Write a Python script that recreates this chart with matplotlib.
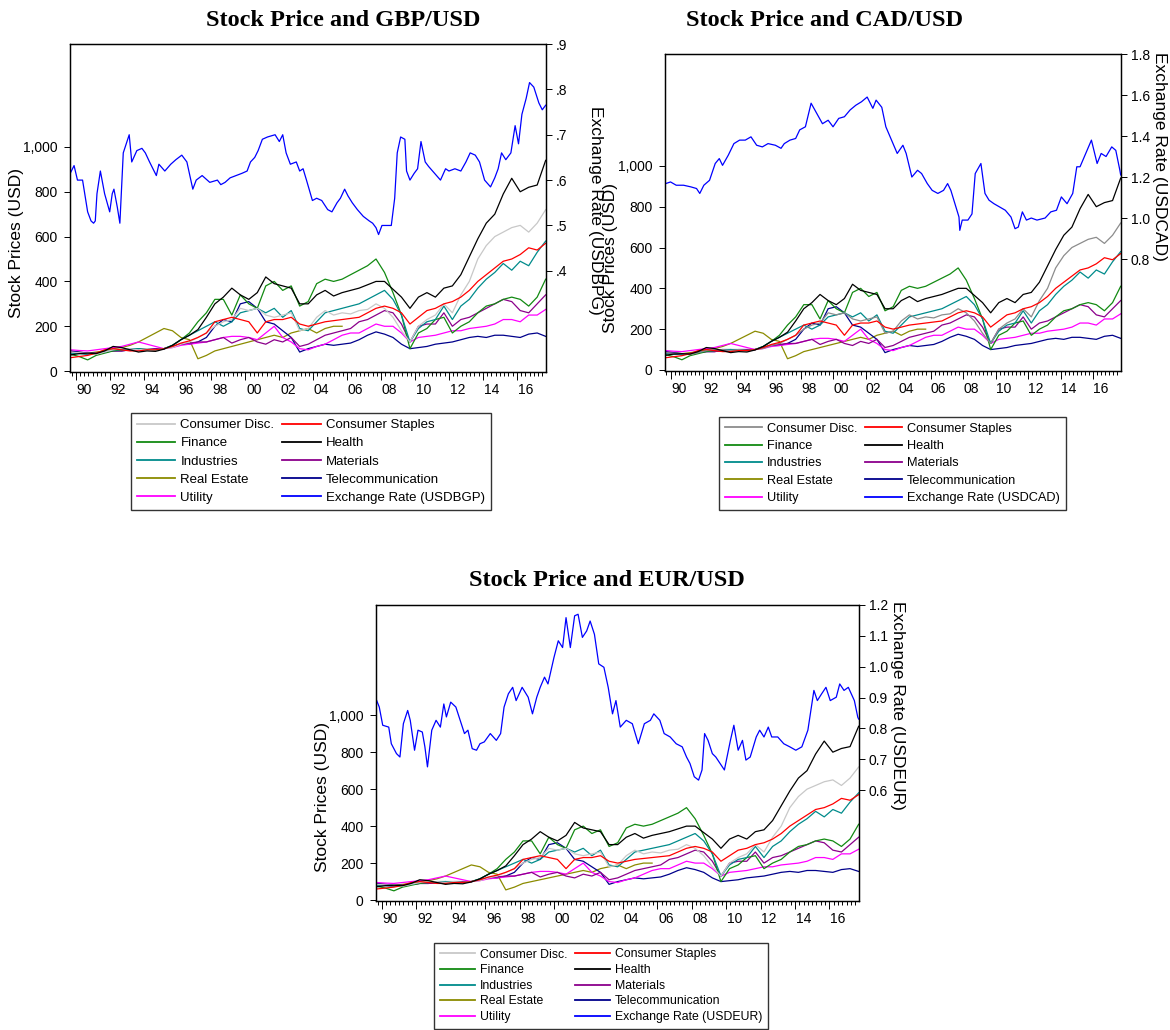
import numpy as np
import matplotlib
matplotlib.use("Agg")
import matplotlib.pyplot as plt
from matplotlib.ticker import FixedLocator, FuncFormatter
from matplotlib.lines import Line2D

plt.rcParams["font.family"] = ["Liberation Sans", "DejaVu Sans"]

# Sector indices, sampled every half year (USD)
STOCK_T = np.arange(1989.7, 2017.71, 0.5)

CONSUMER_DISC = [85, 82, 80, 75, 85, 95, 100, 100, 95, 100,
                 95, 100, 105, 120, 130, 150, 170, 200, 220, 230,
                 280, 270, 280, 250, 240, 250, 260, 180, 190, 240,
                 270, 250, 260, 255, 270, 275, 300, 280, 240, 180,
                 130, 200, 230, 250, 300, 260, 340, 400, 500, 560,
                 600, 620, 640, 650, 620, 660, 720]
CONSUMER_STAPLES = [60, 65, 70, 80, 95, 100, 95, 90, 90, 95,
                    95, 100, 110, 125, 135, 150, 170, 220, 230, 240,
                    230, 220, 170, 220, 230, 230, 240, 210, 200, 210,
                    220, 225, 230, 235, 240, 260, 280, 290, 280, 260,
                    210, 240, 270, 280, 300, 310, 330, 360, 400, 430,
                    460, 490, 500, 520, 550, 540, 570]
FINANCE = [75, 65, 50, 70, 80, 90, 95, 100, 100, 98,
           95, 100, 115, 140, 170, 220, 260, 320, 320, 250,
           340, 300, 280, 380, 400, 360, 380, 290, 310, 390,
           410, 400, 410, 430, 450, 470, 500, 440, 350, 250,
           100, 170, 190, 230, 240, 170, 200, 220, 260, 290,
           300, 320, 330, 320, 290, 330, 410]
HEALTH = [72, 78, 80, 78, 90, 110, 105, 95, 85, 90,
          88, 98, 115, 140, 160, 185, 240, 300, 330, 370,
          340, 320, 350, 420, 390, 380, 370, 300, 300, 340,
          360, 335, 350, 360, 370, 385, 400, 400, 365, 330,
          280, 330, 350, 330, 370, 380, 430, 510, 590, 660,
          700, 790, 860, 800, 820, 830, 940]
INDUSTRIES = [80, 78, 75, 80, 85, 95, 95, 100, 100, 98,
              95, 100, 115, 140, 160, 180, 200, 220, 200, 220,
              260, 270, 280, 260, 280, 240, 270, 190, 180, 220,
              260, 270, 280, 290, 300, 320, 340, 360, 320, 250,
              130, 190, 220, 230, 290, 230, 290, 320, 370, 410,
              440, 480, 450, 490, 470, 530, 580]
MATERIALS = [85, 80, 75, 80, 85, 90, 90, 95, 95, 100,
             100, 100, 110, 120, 125, 130, 130, 140, 150, 125,
             140, 150, 130, 120, 140, 130, 150, 110, 120, 140,
             160, 170, 180, 190, 220, 230, 250, 270, 260, 210,
             130, 200, 210, 210, 260, 200, 230, 240, 260, 280,
             300, 320, 310, 270, 260, 300, 340]
REAL_ESTATE = [90, 85, 80, 85, 90, 100, 105, 115, 130, 150,
               170, 190, 180, 150, 140, 55, 70, 90, 100, 110,
               120, 130, 140, 150, 160, 150, 170, 180, 190, 170,
               190, 200, 200] + [np.nan] * 24
TELECOM = [90, 85, 80, 80, 85, 90, 90, 95, 100, 100,
           100, 100, 110, 120, 120, 130, 150, 200, 230, 220,
           300, 310, 280, 220, 210, 180, 150, 85, 100, 110,
           120, 115, 120, 125, 140, 160, 175, 165, 150, 120,
           100, 105, 110, 120, 125, 130, 140, 150, 155, 150,
           160, 160, 155, 150, 165, 170, 155]
UTILITY = [95, 92, 90, 95, 100, 105, 110, 120, 130, 120,
           110, 100, 105, 115, 120, 125, 130, 140, 150, 155,
           155, 150, 140, 170, 200, 150, 130, 100, 95, 110,
           120, 140, 160, 170, 170, 190, 210, 200, 200, 170,
           130, 150, 155, 160, 170, 180, 180, 190, 195, 200,
           210, 230, 230, 220, 250, 250, 275]

# Exchange rates (units of foreign currency per USD)
GBP_T = [1989.7, 1989.9, 1990.1, 1990.4, 1990.7, 1990.9, 1991.05, 1991.15, 1991.25, 1991.45,
         1991.7, 1992.0, 1992.15, 1992.25, 1992.45, 1992.6, 1992.8, 1993.15, 1993.3, 1993.6,
         1993.9, 1994.1, 1994.35, 1994.75, 1994.9, 1995.25, 1995.6, 1995.9, 1996.25, 1996.55,
         1996.9, 1997.1, 1997.45, 1997.9, 1998.35, 1998.55, 1998.8, 1999.1, 1999.45, 1999.8,
         2000.1, 2000.3, 2000.55, 2000.75, 2001.0, 2001.3, 2001.75, 2002.0, 2002.2, 2002.4,
         2002.65, 2003.0, 2003.2, 2003.4, 2003.6, 2003.95, 2004.2, 2004.5, 2004.85, 2005.1,
         2005.4, 2005.6, 2005.85, 2006.05, 2006.3, 2006.6, 2006.95, 2007.3, 2007.5, 2007.7,
         2007.85, 2008.05, 2008.5, 2008.6, 2008.8, 2008.95, 2009.15, 2009.4, 2009.5, 2009.7,
         2009.95, 2010.15, 2010.35, 2010.6, 2010.8, 2011.15, 2011.5, 2011.8, 2012.0, 2012.35,
         2012.7, 2013.0, 2013.25, 2013.55, 2013.8, 2014.1, 2014.45, 2014.7, 2014.9, 2015.1,
         2015.35, 2015.65, 2015.9, 2016.1, 2016.3, 2016.55, 2016.75, 2017.0, 2017.3, 2017.5,
         2017.7]
GBP_V = [.617, .632, .600, .600, .530, .510, .505, .510, .570, .620,
         .570, .530, .570, .580, .540, .505, .660, .700, .640, .665,
         .670, .660, .640, .610, .635, .620, .635, .645, .655, .640,
         .580, .600, .610, .595, .600, .590, .595, .605, .610, .615,
         .620, .640, .650, .665, .690, .695, .700, .685, .700, .660,
         .635, .640, .620, .625, .600, .555, .560, .555, .535, .530,
         .550, .560, .580, .565, .550, .535, .520, .510, .505, .495,
         .480, .500, .500, .500, .560, .660, .695, .690, .620, .600,
         .615, .625, .685, .640, .630, .615, .600, .625, .620, .625,
         .620, .640, .660, .655, .640, .600, .585, .605, .625, .660,
         .645, .660, .720, .680, .745, .780, .815, .805, .770, .755,
         .765]

CAD_T = [1989.7, 1990.0, 1990.35, 1990.8, 1991.25, 1991.6, 1991.8, 1992.05, 1992.4, 1992.75,
         1993.0, 1993.2, 1993.55, 1993.9, 1994.25, 1994.6, 1994.95, 1995.3, 1995.65, 1996.0,
         1996.45, 1996.8, 1997.0, 1997.35, 1997.7, 1997.95, 1998.3, 1998.65, 1999.0, 1999.35,
         1999.7, 2000.0, 2000.35, 2000.7, 2001.05, 2001.4, 2001.75, 2002.1, 2002.45, 2002.65,
         2003.0, 2003.25, 2003.6, 2003.95, 2004.3, 2004.5, 2004.85, 2005.2, 2005.45, 2005.8,
         2006.1, 2006.45, 2006.8, 2007.05, 2007.25, 2007.5, 2007.75, 2007.8, 2007.95, 2008.3,
         2008.55, 2008.75, 2009.1, 2009.35, 2009.6, 2009.9, 2010.25, 2010.6, 2010.95, 2011.2,
         2011.4, 2011.65, 2011.9, 2012.2, 2012.55, 2013.05, 2013.4, 2013.75, 2014.05, 2014.4,
         2014.75, 2015.0, 2015.2, 2015.55, 2015.9, 2016.25, 2016.5, 2016.8, 2017.15, 2017.4,
         2017.65, 2017.7]
CAD_V = [1.168, 1.176, 1.160, 1.160, 1.152, 1.144, 1.120, 1.160, 1.184, 1.266,
         1.290, 1.257, 1.306, 1.363, 1.380, 1.380, 1.396, 1.355, 1.347, 1.363,
         1.355, 1.340, 1.363, 1.380, 1.388, 1.430, 1.445, 1.560, 1.510, 1.460,
         1.477, 1.445, 1.486, 1.494, 1.527, 1.550, 1.567, 1.590, 1.535, 1.575,
         1.540, 1.445, 1.380, 1.315, 1.355, 1.315, 1.200, 1.233, 1.217, 1.168,
         1.135, 1.120, 1.135, 1.168, 1.135, 1.070, 1.005, 0.940, 0.990, 0.990,
         1.020, 1.217, 1.266, 1.120, 1.087, 1.070, 1.054, 1.038, 1.005, 0.948,
         0.956, 1.030, 0.990, 1.000, 0.990, 1.000, 1.030, 1.038, 1.103, 1.070,
         1.120, 1.250, 1.250, 1.315, 1.380, 1.266, 1.315, 1.300, 1.347, 1.330,
         1.233, 1.210]

EUR_T = [1989.7, 1989.85, 1990.05, 1990.4, 1990.55, 1990.85, 1991.05, 1991.25, 1991.5, 1991.65,
         1991.9, 1992.1, 1992.35, 1992.5, 1992.65, 1992.9, 1993.15, 1993.4, 1993.6, 1993.75,
         1994.0, 1994.3, 1994.55, 1994.8, 1995.0, 1995.25, 1995.5, 1995.7, 1995.95, 1996.3,
         1996.65, 1996.9, 1997.1, 1997.35, 1997.6, 1997.8, 1998.15, 1998.5, 1998.75, 1999.0,
         1999.2, 1999.45, 1999.65, 2000.0, 2000.25, 2000.5, 2000.7, 2000.95, 2001.2, 2001.4,
         2001.65, 2001.9, 2002.1, 2002.35, 2002.6, 2002.9, 2003.15, 2003.4, 2003.6, 2003.85,
         2004.2, 2004.55, 2004.9, 2005.25, 2005.6, 2005.8, 2006.15, 2006.4, 2006.75, 2007.1,
         2007.45, 2007.7, 2007.9, 2008.15, 2008.4, 2008.6, 2008.75, 2008.95, 2009.2, 2009.4,
         2009.65, 2009.9, 2010.25, 2010.45, 2010.7, 2010.95, 2011.15, 2011.4, 2011.75, 2011.95,
         2012.2, 2012.45, 2012.65, 2013.0, 2013.35, 2013.7, 2014.05, 2014.4, 2014.75, 2015.1,
         2015.3, 2015.55, 2015.8, 2016.05, 2016.4, 2016.6, 2016.85, 2017.1, 2017.45, 2017.65,
         2017.7]
EUR_V = [0.890, 0.869, 0.810, 0.804, 0.750, 0.718, 0.707, 0.815, 0.858, 0.826,
         0.729, 0.794, 0.788, 0.740, 0.675, 0.794, 0.826, 0.804, 0.879, 0.837,
         0.885, 0.869, 0.826, 0.783, 0.794, 0.734, 0.729, 0.750, 0.756, 0.783,
         0.761, 0.783, 0.869, 0.912, 0.933, 0.890, 0.933, 0.901, 0.847, 0.901,
         0.933, 0.966, 0.944, 1.030, 1.084, 1.062, 1.159, 1.062, 1.165, 1.170,
         1.095, 1.116, 1.148, 1.105, 1.009, 0.998, 0.933, 0.847, 0.890, 0.804,
         0.826, 0.815, 0.750, 0.815, 0.826, 0.847, 0.826, 0.783, 0.772, 0.750,
         0.740, 0.707, 0.686, 0.643, 0.632, 0.665, 0.783, 0.761, 0.718, 0.707,
         0.686, 0.665, 0.761, 0.810, 0.729, 0.761, 0.697, 0.707, 0.772, 0.794,
         0.772, 0.804, 0.772, 0.772, 0.750, 0.740, 0.729, 0.740, 0.794, 0.923,
         0.890, 0.912, 0.933, 0.890, 0.901, 0.944, 0.923, 0.933, 0.890, 0.836,
         0.830]

# legend order follows the reference (two columns, read row by row)
SECTORS = [
    ("Consumer Disc.", CONSUMER_DISC, "#c8c8c8"),
    ("Finance", FINANCE, "#128a12"),
    ("Industries", INDUSTRIES, "#008b8b"),
    ("Real Estate", REAL_ESTATE, "#8b8b00"),
    ("Utility", UTILITY, "#ff00ff"),
    ("Consumer Staples", CONSUMER_STAPLES, "#ff0000"),
    ("Health", HEALTH, "#000000"),
    ("Materials", MATERIALS, "#8b008b"),
    ("Telecommunication", TELECOM, "#00008b"),
]
DRAW_ORDER = ["Real Estate", "Telecommunication", "Utility", "Materials", "Finance",
              "Industries", "Consumer Disc.", "Consumer Staples", "Health"]

W, H = 1170, 1030
fig = plt.figure(figsize=(W / 100, H / 100), dpi=100)


def px_rect(x0, y0, x1, y1):
    return [x0 / W, 1 - y1 / H, (x1 - x0) / W, (y1 - y0) / H]


def draw_panel(box, title, title_xy, fx_t, fx_v, fx_legend, fx_axis, fx_lim, fx_ticks, fx_fmt,
               left_lim, disc_color, leg_xy, leg_size, leg_space, ylab_xy, rlab_xy):
    ax = fig.add_axes(px_rect(*box))
    ax2 = ax.twinx()
    colors = {}
    for name, vals, col in SECTORS:
        colors[name] = disc_color if name == "Consumer Disc." else col
    series = {name: vals for name, vals, col in SECTORS}
    for name in DRAW_ORDER:
        ax.plot(STOCK_T, series[name], color=colors[name], lw=0.9)
    ax2.plot(fx_t, fx_v, color="#0000ff", lw=0.9)

    xmin, xmax = 1989.66, 2017.72
    ax.set_xlim(xmin, xmax)
    ax.set_ylim(*left_lim)
    ax2.set_ylim(*fx_lim)

    # quarterly ticks, year labels sit in the middle of even years
    pos, lab = [], []
    for yr in range(1989, 2018):
        for q in (0.0, 0.25, 0.5, 0.75):
            t = yr + q
            if t < xmin or t > xmax or (q == 0.0 and yr % 2 == 0):
                continue
            pos.append(t)
            lab.append(f"{yr % 100:02d}" if (q == 0.5 and yr % 2 == 0) else "")
    ax.set_xticks(pos)
    ax.set_xticklabels(lab)
    ax.xaxis.set_minor_locator(FixedLocator(list(range(1990, 2018, 2))))
    ax.tick_params(axis="x", which="major", length=3, width=0.7, pad=5, labelsize=10)
    ax.tick_params(axis="x", which="minor", length=6, width=0.7)

    ax.set_yticks([0, 200, 400, 600, 800, 1000])
    ax.yaxis.set_major_formatter(FuncFormatter(lambda v, p: f"{v:,.0f}"))
    ax.tick_params(axis="y", length=4, width=0.7, pad=5, labelsize=10)
    ax2.set_yticks(fx_ticks)
    ax2.yaxis.set_major_formatter(FuncFormatter(fx_fmt))
    ax2.tick_params(axis="y", length=4, width=0.7, pad=3, labelsize=10)
    for a in (ax, ax2):
        for sp in a.spines.values():
            sp.set_linewidth(0.9)

    ax.set_ylabel("Stock Prices (USD)", fontsize=12.5, rotation=90, ha="center", va="center")
    ax.yaxis.set_label_coords(ylab_xy[0] / W, 1 - ylab_xy[1] / H, transform=fig.transFigure)
    ax2.set_ylabel(fx_axis, fontsize=12.5, rotation=270, ha="center", va="center")
    ax2.yaxis.set_label_coords(rlab_xy[0] / W, 1 - rlab_xy[1] / H, transform=fig.transFigure)

    fig.text(title_xy[0] / W, 1 - title_xy[1] / H, title, ha="center", va="center",
             fontsize=17.5, fontweight="bold", family=["Liberation Serif", "DejaVu Serif"])

    handles = [Line2D([], [], color=colors[name], lw=1.3) for name, vals, col in SECTORS]
    labels = [name for name, vals, col in SECTORS]
    handles.append(Line2D([], [], color="#0000ff", lw=1.3))
    labels.append(fx_legend)
    leg = fig.legend(handles, labels, ncol=2, loc="upper left",
                     bbox_to_anchor=(leg_xy[0] / W, 1 - leg_xy[1] / H),
                     fontsize=leg_size, frameon=True, fancybox=False, edgecolor="black",
                     handlelength=2.9, handletextpad=0.4, columnspacing=0.6,
                     labelspacing=leg_space, borderpad=0.45, borderaxespad=0)
    leg.get_frame().set_linewidth(1.0)
    return ax, ax2


draw_panel((70, 44, 546, 372), "Stock Price and GBP/USD", (343, 20),
           GBP_T, GBP_V, "Exchange Rate (USDBGP)", "Exchange Rate (USDBPG)", (0.177, 0.9),
           [0.4, 0.5, 0.6, 0.7, 0.8, 0.9], lambda v, p: f"{v:.1f}".lstrip("0"),
           (-4, 1459), "#c8c8c8", (131, 413), 9.5, 0.45, (17, 243), (596, 210))
draw_panel((665, 54, 1121, 371), "Stock Price and CAD/USD", (825, 20),
           CAD_T, CAD_V, "Exchange Rate (USDCAD)", "Exchange Rate (USDCAD)", (0.254, 1.8),
           [0.8, 1.0, 1.2, 1.4, 1.6, 1.8], lambda v, p: f"{v:.1f}",
           (-5, 1548), "#8c8c8c", (719, 417), 9.2, 0.42, (610, 258), (1160, 156))
draw_panel((376, 605, 859, 901), "Stock Price and EUR/USD", (607, 580),
           EUR_T, EUR_V, "Exchange Rate (USDEUR)", "Exchange Rate (USDEUR)", (0.24, 1.2),
           [0.6, 0.7, 0.8, 0.9, 1.0, 1.1, 1.2], lambda v, p: f"{v:.1f}",
           (-5, 1596), "#c8c8c8", (434, 943), 8.8, 0.3, (323, 797), (897, 705))

fig.savefig("out.png", dpi=100)
